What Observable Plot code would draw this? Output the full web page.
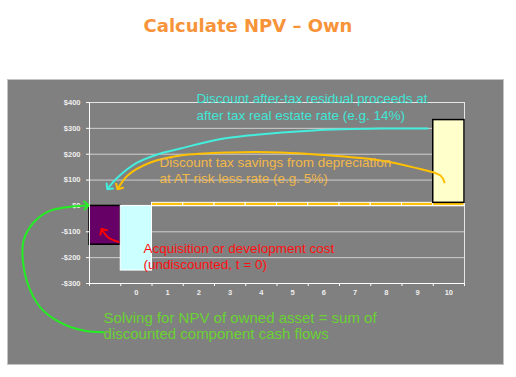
<!DOCTYPE html>
<html>
<head>
<meta charset="utf-8">
<script src="https://cdn.jsdelivr.net/npm/d3@7"></script>
<script src="https://cdn.jsdelivr.net/npm/@observablehq/plot@0.6"></script>
<style>
  html, body { margin: 0; padding: 0; background: #ffffff; }
  body { position: relative; width: 516px; height: 377px; overflow: hidden; }
  #title { position: absolute; left: 0; top: 15px; width: 496px; text-align: center;
           font: bold 18px "DejaVu Sans", Verdana, sans-serif; line-height: 22px; color: #f7943a; }
  #panel { position: absolute; left: 7px; top: 79px; width: 497px; height: 286px; box-sizing: border-box;
           background: #808080; border: 1px solid #c4c4c4; }
  #chart { position: absolute; left: 7px; top: 79px; }
</style>
</head>
<body>
<div id="title">Calculate NPV – Own</div>
<div id="panel"></div>
<div id="chart"></div>
<script>
// ---- data ----
const periodLabels = ["", "0", "1", "2", "3", "4", "5", "6", "7", "8", "9", "10"];
const npvValue = [-150, null, null, null, null, null, null, null, null, null, null, null];
const acquisitionCost = [null, -250, null, null, null, null, null, null, null, null, null, null];
const depreciationTaxSavings = [null, null, 12, 12, 12, 12, 12, 12, 12, 12, 12, 12];
const residualProceeds = [null, null, null, null, null, null, null, null, null, null, null, 320];
const yTicks = [-300, -200, -100, 0, 100, 200, 300, 400];

// annotation texts and their anchors (x in period-slot units, y in $)
const noteTexts = [
  "Discount after-tax residual proceeds at\nafter tax real estate rate (e.g. 14%)",
  "Discount tax savings from depreciation\nat AT risk less rate (e.g. 5%)",
  "Acquisition or development cost\n(undiscounted, t = 0)",
  "Solving for NPV of owned asset = sum of\ndiscounted component cash flows"
];
const noteX = [3.42, 2.24, 1.73, 0.45];
const noteY = [334, 89, -242, -513];
// arrow paths (x in slot units, y in $)
const cyanArrow = [[10.82, 299], [9.31, 299], [7.17, 292], [5.06, 272], [3.97, 253], [2.91, 222], [2.27, 203], [1.54, 168], [0.90, 110], [0.61, 71]];
const goldArrow = [[11.36, 91], [11.23, 118], [10.37, 149], [9.31, 176], [7.71, 195], [6.11, 207], [4.51, 207], [2.91, 195], [1.95, 168], [1.22, 118], [0.93, 71]];
const redArrow = [[0.93, -139], [0.61, -123], [0.42, -96]];
const greenArrow = [[0.45, -489], [-0.19, -482], [-0.93, -451], [-1.57, -393], [-1.98, -300], [-2.14, -199], [-2.11, -134], [-1.79, -64], [-1.25, -18], [-0.10, 2]];

// ---- build rows ----
const bars = [];
periodLabels.forEach((p, i) => {
  if (npvValue[i] != null) bars.push({i, kind: "npv", y1: 0, y2: npvValue[i]});
  if (acquisitionCost[i] != null) bars.push({i, kind: "acq", y1: 0, y2: acquisitionCost[i]});
  if (depreciationTaxSavings[i] != null) bars.push({i, kind: "tax", y1: 0, y2: depreciationTaxSavings[i]});
  if (residualProceeds[i] != null) {
    const base = depreciationTaxSavings[i] || 0;
    bars.push({i, kind: "res", y1: base, y2: base + residualProceeds[i]});
  }
});
const pts = arr => arr.map(([x, y]) => ({x, y}));
const fmt = d => d < 0 ? `-$${-d}` : `$${d}`;
const font = "'Liberation Sans', Arial, sans-serif";

const barStyle = {
  npv: {fill: "#660066", stroke: "#000000", strokeWidth: 1.5},
  acq: {fill: "#ccffff", stroke: "#ffffff", strokeWidth: 1},
  tax: {fill: "#ffc000", stroke: "#ffffff", strokeWidth: 1},
  res: {fill: "#ffffcc", stroke: "#000000", strokeWidth: 1.5}
};
const noteColor = ["#3fe6d6", "#f2b84a", "#ff1010", "#6ad232"];
const noteSize = [13.5, 13.5, 13.5, 15];
const noteLH = [1.26, 1.15, 1.15, 1.04];

const chart = Plot.plot({
  width: 497, height: 286,
  marginLeft: 82, marginRight: 40, marginTop: 23, marginBottom: 82,
  x: {domain: [0, 12], axis: null},
  y: {domain: [-300, 400], axis: null},
  style: {fontFamily: font, background: "none", overflow: "visible"},
  marks: [
    Plot.gridY(yTicks, {stroke: "#cfcfcf", strokeOpacity: 1}),
    Plot.frame({stroke: "#e6e6e6"}),
    ...Object.keys(barStyle).map(k =>
      Plot.rect(bars.filter(d => d.kind === k), {x1: "i", x2: d => d.i + 1, y1: "y1", y2: "y2", ...barStyle[k]})
    ),
    Plot.ruleX([0], {stroke: "#ffffff"}),
    Plot.ruleY([-300], {stroke: "#ffffff"}),
    Plot.axisY(yTicks, {tickFormat: fmt, tickSize: 3, tickPadding: 6, color: "#eeeeee", stroke: "#ffffff",
      fontSize: 7.5, fontWeight: "bold", label: null}),
    Plot.axisX(d3.range(13), {tickFormat: () => "", tickSize: 3, stroke: "#ffffff", label: null}),
    Plot.axisX(d3.range(12).map(i => i + 0.5), {tickFormat: v => periodLabels[Math.floor(v)], tickSize: 0,
      tickPadding: 6, color: "#eeeeee", fontSize: 7.5, fontWeight: "bold", label: null}),
    Plot.line(pts(cyanArrow), {x: "x", y: "y", stroke: "#44eedd", strokeWidth: 2, curve: "catmull-rom", markerEnd: "arrow"}),
    Plot.line(pts(goldArrow), {x: "x", y: "y", stroke: "#ffc000", strokeWidth: 2, curve: "catmull-rom", markerEnd: "arrow"}),
    Plot.line(pts(redArrow), {x: "x", y: "y", stroke: "#ff0000", strokeWidth: 2, curve: "catmull-rom", markerEnd: "arrow"}),
    Plot.line(pts(greenArrow), {x: "x", y: "y", stroke: "#22ee22", strokeWidth: 2, curve: "catmull-rom", markerEnd: "arrow"}),
    ...noteTexts.map((t, k) => Plot.text([t], {x: noteX[k], y: noteY[k], text: d => d, textAnchor: "start",
      lineAnchor: "bottom", fill: noteColor[k], fontSize: noteSize[k], lineHeight: noteLH[k], fontFamily: font}))
  ]
});
document.getElementById("chart").appendChild(chart);
</script>
</body>
</html>
